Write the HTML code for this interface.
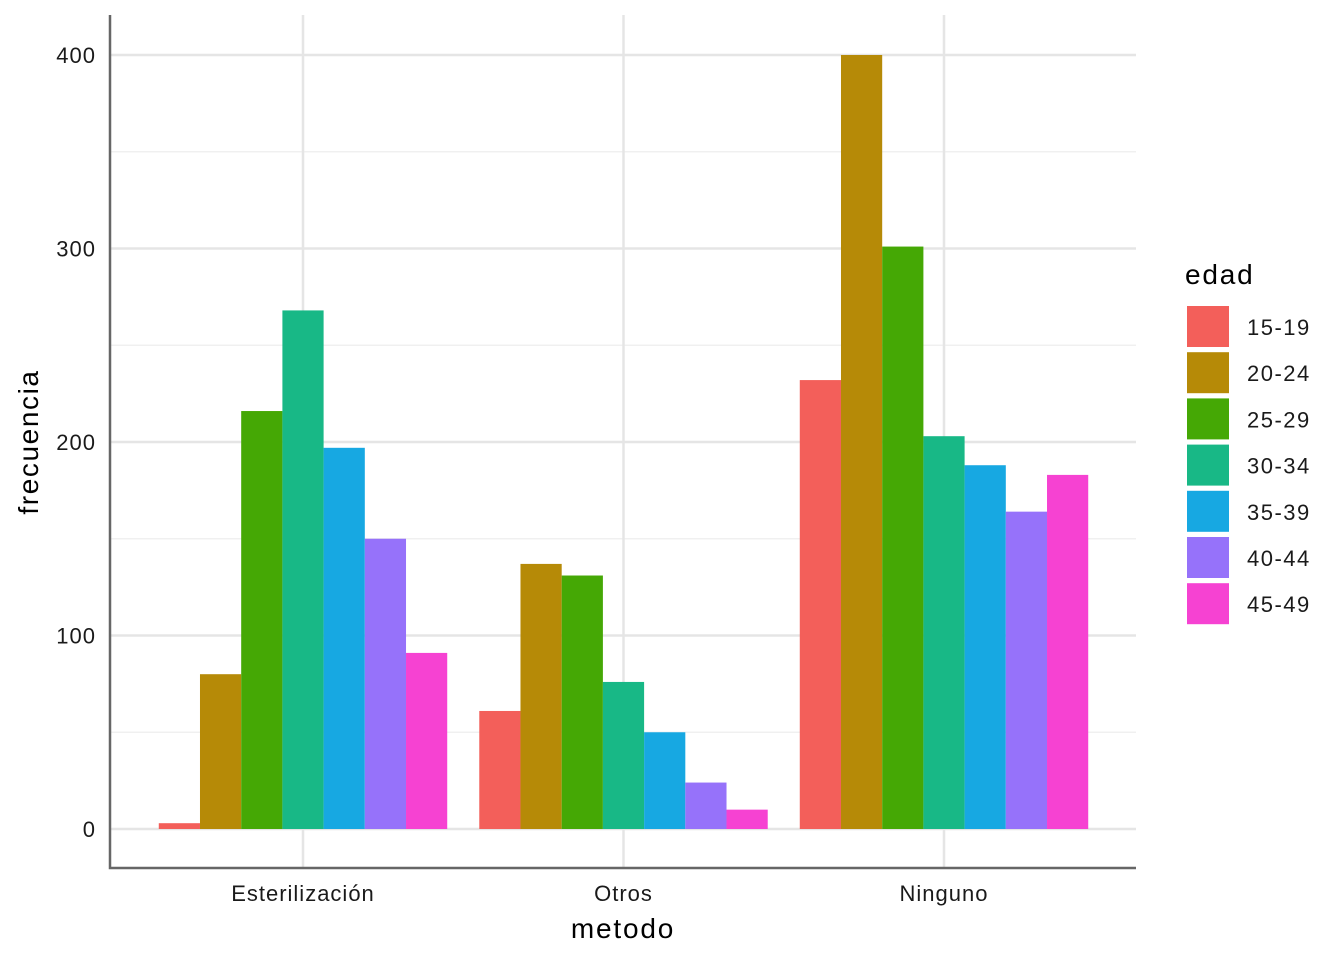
<!DOCTYPE html>
<html><head><meta charset="utf-8"><style>
body{margin:0;background:#fff;font-family:"Liberation Sans",Arial,sans-serif;}
</style></head><body>
<svg width="1344" height="960" id="chart" xmlns="http://www.w3.org/2000/svg"></svg>
<script>
const categories=["Esterilización","Otros","Ninguno"];
const groups=["15-19","20-24","25-29","30-34","35-39","40-44","45-49"];
const colors=["#F35F5A","#B68A07","#45A805","#18B886","#17A8E2","#9672FA","#F642D2"];
const vEster=[3,80,216,268,197,150,91];
const vOtros=[61,137,131,76,50,24,10];
const vNinguno=[232,400,301,203,188,164,183];
const series=[vEster,vOtros,vNinguno];
const yTicks=[0,100,200,300,400];
const svg=document.getElementById('chart');
const NS="http://www.w3.org/2000/svg";
const y=v=>829-v*1.935;
const x=i=>303+i*320.5;
function mk(t,a,parent){const e=document.createElementNS(NS,t);for(const k in a)e.setAttribute(k,a[k]);(parent||svg).appendChild(e);return e;}
for(let v=50;v<=350;v+=100){const l=mk('line',{x1:110,x2:1136,y1:y(v),y2:y(v),stroke:'#f0f0f0','stroke-width':1.5});

}
yTicks.forEach(v=>{const l=mk('line',{x1:110,x2:1136,y1:y(v),y2:y(v),stroke:'#e5e5e5','stroke-width':2.5});


const t=mk('text',{x:96,y:y(v)+8,'text-anchor':'end','font-size':22,'letter-spacing':1,fill:'#1a1a1a'});t.textContent=v;

});
categories.forEach((c,i)=>{const l=mk('line',{x1:x(i),x2:x(i),y1:15,y2:868,stroke:'#e5e5e5','stroke-width':2.5});


const t=mk('text',{x:x(i),y:901,'text-anchor':'middle','font-size':22,'letter-spacing':1,fill:'#1a1a1a'});t.textContent=c;

});
const bw=320.5*0.9/7;
series.forEach((vals,i)=>{vals.forEach((v,j)=>{const r=mk('rect',{x:x(i)-320.5*0.45+j*bw,y:y(v),width:bw,height:y(0)-y(v),fill:colors[j]});

});});
const ax=mk('path',{d:'M110 15 V868 H1136',stroke:'#666',fill:'none','stroke-width':2.5});


const xt=mk('text',{x:623,y:938,'text-anchor':'middle','font-size':28,'letter-spacing':1.8,fill:'#000'});xt.textContent='metodo';


const yt=mk('text',{x:38,y:442,'text-anchor':'middle','font-size':28,'letter-spacing':1.6,fill:'#000',transform:'rotate(-90 38 442)'});yt.textContent='frecuencia';


const lt=mk('text',{x:1185,y:284,'font-size':28,'letter-spacing':1.8,fill:'#000'});lt.textContent='edad';


groups.forEach((g,j)=>{const r=mk('rect',{x:1187,y:306+j*46.2,width:42,height:41,fill:colors[j]});


const t=mk('text',{x:1247,y:335+j*46.2,'font-size':22,'letter-spacing':1.5,fill:'#1a1a1a'});t.textContent=g;

});
</script>
</body></html>
